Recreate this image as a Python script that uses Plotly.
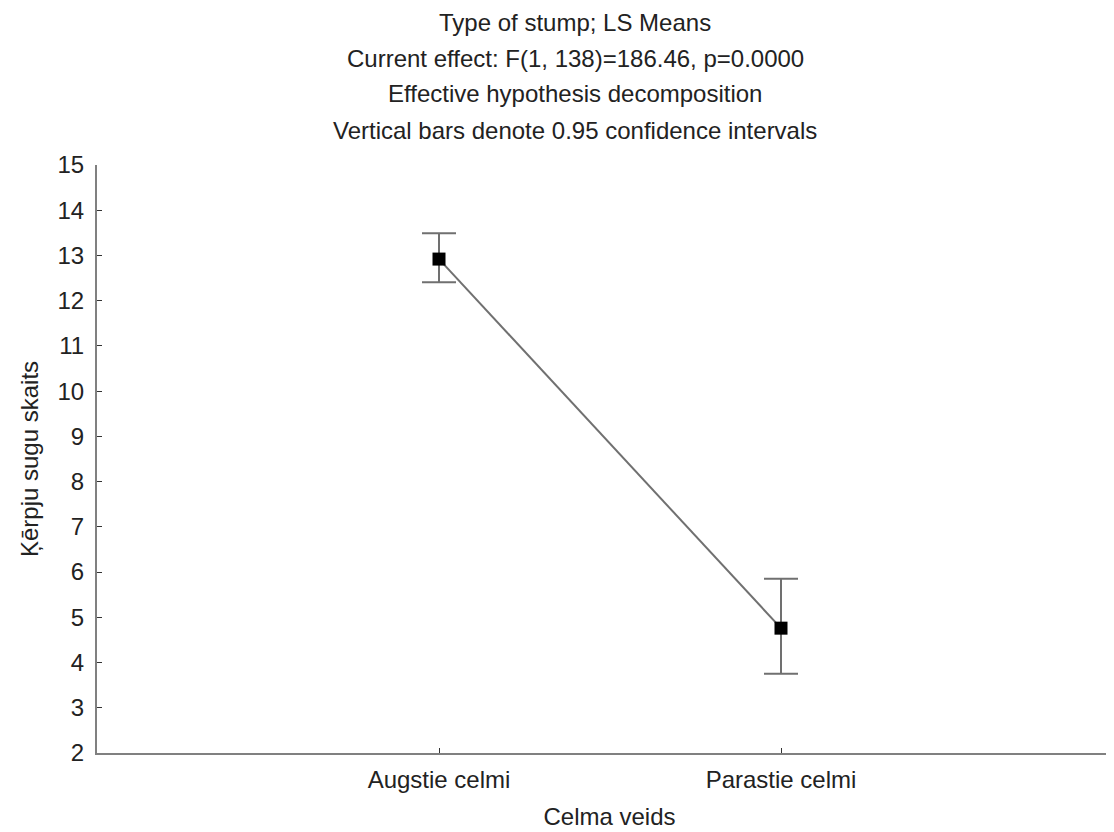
import plotly.graph_objects as go

categories = ["Augstie celmi", "Parastie celmi"]
means = [12.92, 4.76]
ci_upper = [13.49, 5.85]
ci_lower = [12.41, 3.75]

title_lines = [
    "Type of stump; LS Means",
    "Current effect: F(1, 138)=186.46, p=0.0000",
    "Effective hypothesis decomposition",
    "Vertical bars denote 0.95 confidence intervals",
]

err_plus = [u - m for u, m in zip(ci_upper, means)]
err_minus = [m - l for m, l in zip(means, ci_lower)]

FONT = "Liberation Sans, Arial, sans-serif"
TXT = "#222222"

fig = go.Figure()
fig.add_trace(go.Scatter(
    x=categories, y=means,
    mode="lines+markers",
    line=dict(color="#707070", width=2),
    marker=dict(symbol="square", size=13, color="black"),
    error_y=dict(type="data", symmetric=False, array=err_plus, arrayminus=err_minus,
                 color="#707070", thickness=2, width=17),
    showlegend=False,
))

W, H = 1114, 832
OFF = 8  # page body margin
l, r, t, b = 97 - OFF, 0, 165 - OFF, H - 753 + OFF
ph = H - t - b
pw = W - l - r
for line, ypix in zip(title_lines, [22, 58, 94, 130]):
    fig.add_annotation(text=line, xref="paper", yref="paper",
                       x=(575 - OFF - l) / pw, y=(H - b - (ypix - OFF)) / ph,
                       xanchor="center", yanchor="middle", showarrow=False,
                       font=dict(family=FONT, size=24, color=TXT))

fig.update_layout(
    width=W, height=H,
    margin=dict(l=l, r=r, t=t, b=b),
    paper_bgcolor="white", plot_bgcolor="white",
    font=dict(family=FONT, size=24, color=TXT),
    xaxis=dict(type="category", range=[-1, -1 + pw / 342], showline=True, linecolor="#808080",
               linewidth=2, ticks="inside", ticklen=5, tickcolor="#333", showgrid=False,
               zeroline=False, ticklabelstandoff=4,
               title=dict(text="Celma veids", font=dict(size=24), standoff=16)),
    yaxis=dict(range=[2, 15], dtick=1, showline=True, linecolor="#808080", linewidth=2,
               ticks="inside", ticklen=5, tickcolor="#333", showgrid=False, zeroline=False,
               ticklabelstandoff=6,
               title=dict(text="Ķērpju sugu skaits", font=dict(size=24), standoff=12)),
)

fig.write_html("out.html")
